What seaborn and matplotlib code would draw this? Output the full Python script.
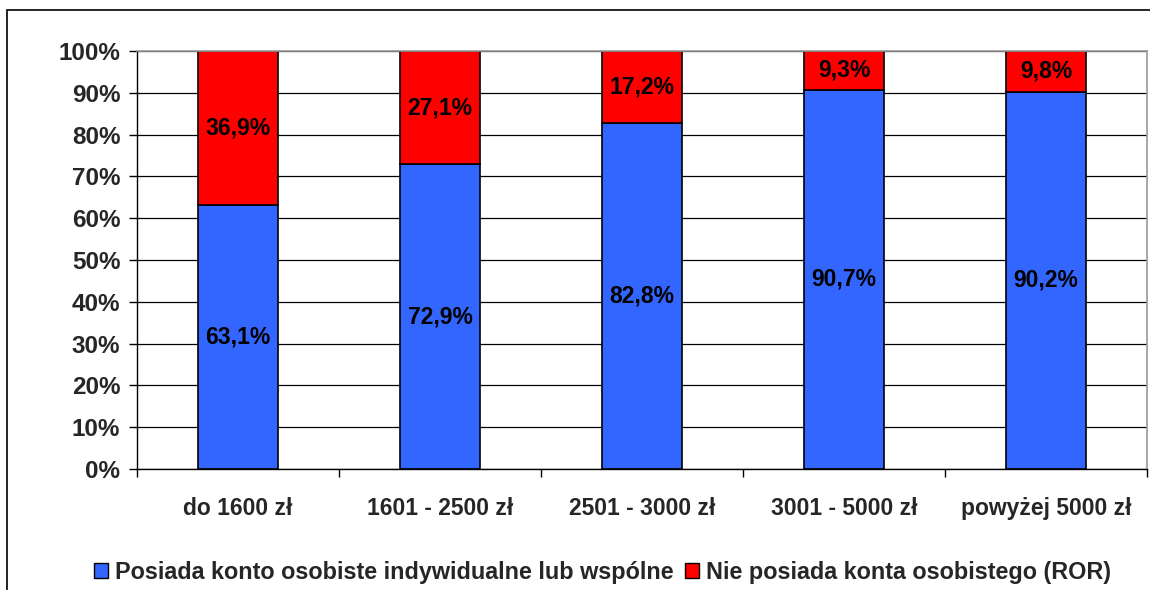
import matplotlib
matplotlib.use("Agg")
import matplotlib.pyplot as plt
from matplotlib.patches import Rectangle, Patch
import seaborn as sns
import pandas as pd

# Data
categories = ["do 1600 zł", "1601 - 2500 zł", "2501 - 3000 zł", "3001 - 5000 zł", "powyżej 5000 zł"]
has_account = [63.1, 72.9, 82.8, 90.7, 90.2]
no_account = [36.9, 27.1, 17.2, 9.3, 9.8]
series_names = ["Posiada konto osobiste indywidualne lub wspólne", "Nie posiada konta osobistego (ROR)"]
blue = "#3366FF"
red = "#FF0000"

sns.set_theme(style="white")
plt.rcParams["font.family"] = ["Liberation Sans", "DejaVu Sans"]
plt.rcParams["font.weight"] = "bold"

df = pd.DataFrame({"cat": categories, "has": has_account, "no": no_account})

fig = plt.figure(figsize=(11.5, 5.9), dpi=100)
ax = fig.add_axes([137 / 1150, 1 - 469 / 590, 1010 / 1150, 418 / 590])

# outer chart frame (cropped on right and bottom)
fig.add_artist(Rectangle((7 / 1150, -0.1), 1.2, 1.1 - 10 / 590, transform=fig.transFigure,
                         fill=False, edgecolor="black", linewidth=1.2, clip_on=False))

ax.set_axisbelow(True)
ax.yaxis.grid(True, color="black", linewidth=0.9)

sns.barplot(data=df, x="cat", y="has", color=blue, width=0.4, edgecolor="black",
            linewidth=1.2, saturation=1, ax=ax)
sns.barplot(data=df, x="cat", y="no", bottom=df["has"], color=red, width=0.4,
            edgecolor="black", linewidth=1.2, saturation=1, ax=ax)

for i, (h, n) in enumerate(zip(has_account, no_account)):
    ax.text(i, h / 2, f"{h:.1f}%".replace(".", ","), ha="center", va="center",
            fontsize=16.5, fontweight="bold", color="black")
    ax.text(i, h + n / 2, f"{n:.1f}%".replace(".", ","), ha="center", va="center",
            fontsize=16.5, fontweight="bold", color="black")

ax.set_xlim(-0.5, 4.5)
ax.set_ylim(0, 100)
ax.set_yticks(range(0, 101, 10))
ax.set_yticklabels([f"{v}%" for v in range(0, 101, 10)], fontsize=17.5, fontweight="bold")
ax.set_xticks(range(len(categories)))
ax.set_xticklabels(categories, fontsize=16.5, fontweight="bold")
ax.set_xticks([i - 0.5 for i in range(len(categories) + 1)], minor=True)
ax.tick_params(axis="x", which="major", length=0, pad=20)
ax.tick_params(axis="x", which="minor", length=6, width=1, color="black", direction="out", bottom=True)
ax.tick_params(axis="y", length=6, width=1, color="black", direction="out", left=True, pad=6)
ax.set_xlabel("")
ax.set_ylabel("")

for side in ["left", "bottom"]:
    ax.spines[side].set_color("black")
    ax.spines[side].set_linewidth(1)
for side in ["top", "right"]:
    ax.spines[side].set_color("#999999")
    ax.spines[side].set_linewidth(1.2)

handles = [Patch(facecolor=blue, edgecolor="black", linewidth=1),
           Patch(facecolor=red, edgecolor="black", linewidth=1)]
fig.legend(handles, series_names, loc="center", bbox_to_anchor=(0.524, 1 - 572 / 590),
           ncol=2, frameon=False, handlelength=0.6, handleheight=0.6,
           handletextpad=0.3, columnspacing=0.5, prop={"weight": "bold", "size": 16.8})

fig.savefig("out.png", dpi=100)
